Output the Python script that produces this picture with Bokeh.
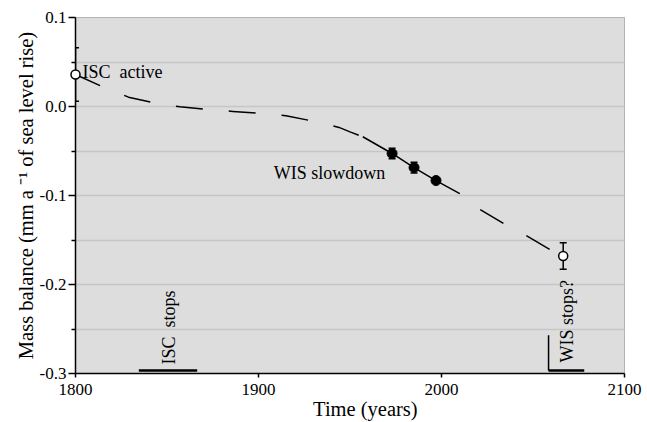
import math
from bokeh.plotting import figure
from bokeh.models import (ColumnDataSource, Whisker, TeeHead, FixedTicker,
                          PrintfTickFormatter, Range1d)
from bokeh.embed import file_html
from bokeh.resources import INLINE
from bokeh.core.properties import value

# ---------------- data ----------------
# model curve, before the observed period (dashed)
early_years = [1800, 1815, 1829, 1843, 1857, 1872, 1886, 1901, 1915, 1930,
               1944, 1950, 1957]
early_values = [0.036, 0.022, 0.0105, 0.004, -0.0004, -0.0033, -0.0055, -0.0078,
                -0.0103, -0.0165, -0.0235, -0.0285, -0.034]

# observed trend (solid)
solid_years = [1957, 1973, 1985, 1997, 2010]
solid_values = [-0.034, -0.0528, -0.0686, -0.0832, -0.0978]

# model curve, after the observed period (dashed)
late_years = [2010, 2020, 2034, 2046, 2060]
late_values = [-0.0978, -0.1144, -0.1316, -0.1447, -0.1616]

obs_years = [1973, 1985, 1997]
obs_values = [-0.0528, -0.0686, -0.0832]
obs_err = [0.006, 0.006, 0.002]

est_years = [1800, 2066.5]
est_values = [0.036, -0.168]
est_err = [0.03, 0.015]

event_start = [1834.6, 2058.5]
event_end = [1866.5, 2078]
event_level = [-0.2966, -0.2966]

mark_years = [2058.5]
mark_bottom = [-0.2966]
mark_top = [-0.257]

x_ticks = [1800, 1900, 2000, 2100]
y_ticks = [-0.3, -0.2, -0.1, 0.0, 0.1]
y_minor = [-0.25, -0.15, -0.05, 0.05]

note_texts = ["ISC\u00a0 active", "WIS slowdown", "ISC\u00a0 stops", "WIS stops?"]
note_x = [1803.8, 1908.4, 1851.0, 2068.5]
note_y = [0.0385, -0.0746, -0.2898, -0.2876]
note_angle = [0.0, 0.0, math.pi / 2, math.pi / 2]

x_title = "\u00a0" * 6 + "Time (years)"
y_title = "Mass balance (mm a \u207b\u00b9 of sea level rise)"

FONT = "Liberation Serif"

p = figure(frame_width=549, frame_height=356,
           min_border_left=75, min_border_right=23, min_border_top=17, min_border_bottom=48,
           x_range=Range1d(1800, 2100), y_range=Range1d(-0.3, 0.1),
           output_backend="svg", toolbar_location=None)

p.background_fill_color = "#dddddd"
p.border_fill_color = "white"
p.outline_line_color = "#b4b4b4"
p.outline_line_width = 1

xa = p.xaxis[0]
ya = p.yaxis[0]
xa.ticker = FixedTicker(ticks=x_ticks)
ya.ticker = FixedTicker(ticks=y_ticks, minor_ticks=y_minor)
ya.formatter = PrintfTickFormatter(format="%.1f")
for ax in (xa, ya):
    ax.axis_line_color = "black"
    ax.axis_line_width = 1.5
    ax.major_tick_line_color = "black"
    ax.major_tick_line_width = 1.5
    ax.major_tick_in = 0
    ax.minor_tick_in = 0
    ax.major_label_text_font = FONT
    ax.major_label_text_font_size = "17px"
    ax.major_label_text_color = "black"
    ax.axis_label_text_font = FONT
    ax.axis_label_text_font_size = "20.5px"
    ax.axis_label_text_font_style = "normal"
    ax.axis_label_text_color = "black"
    ax.axis_label_standoff = 0
xa.axis_label = x_title
ya.axis_label = y_title
xa.major_tick_out = 4
xa.minor_tick_line_color = None
xa.major_label_standoff = 6
ya.major_tick_out = 7
ya.minor_tick_out = 4
ya.minor_tick_line_color = "black"
ya.minor_tick_line_width = 1.5
ya.major_label_standoff = 2

p.xgrid.grid_line_color = None
p.ygrid.ticker = FixedTicker(ticks=y_ticks, minor_ticks=y_minor)
p.ygrid.grid_line_color = "#c6c6c6"
p.ygrid.grid_line_width = 1.5
p.ygrid.minor_grid_line_color = "#c6c6c6"
p.ygrid.minor_grid_line_width = 1.5

# curves
p.line(early_years, early_values, line_color="black", line_width=1.5, line_dash="27 26")
p.line(solid_years, solid_values, line_color="black", line_width=1.5)
p.line(late_years, late_values, line_color="black", line_width=1.5, line_dash="27 26",
       line_dash_offset=27)

# event bars at bottom
p.segment(x0=event_start, x1=event_end, y0=event_level, y1=event_level,
          line_color="black", line_width=2.5)
p.segment(x0=mark_years, x1=mark_years, y0=mark_bottom, y1=mark_top,
          line_color="black", line_width=1.5)

# error bars
obs_src = ColumnDataSource(dict(x=obs_years, y=obs_values,
                                lo=[v - e for v, e in zip(obs_values, obs_err)],
                                hi=[v + e for v, e in zip(obs_values, obs_err)]))
est_src = ColumnDataSource(dict(x=est_years, y=est_values,
                                lo=[v - e for v, e in zip(est_values, est_err)],
                                hi=[v + e for v, e in zip(est_values, est_err)]))
for src in (obs_src, est_src):
    w = Whisker(source=src, base="x", lower="lo", upper="hi", line_color="black",
                line_width=1.5,
                upper_head=TeeHead(size=7, line_color="black", line_width=1.5),
                lower_head=TeeHead(size=7, line_color="black", line_width=1.5))
    p.add_layout(w)

p.scatter("x", "y", source=obs_src, size=10, fill_color="black", line_color="black")
r_est = p.scatter("x", "y", source=est_src, size=9, fill_color="white",
                  line_color="black", line_width=1.5)
r_est.level = "overlay"

# annotations in the plot
p.text(x=note_x, y=note_y, text=note_texts, angle=note_angle,
       text_font=value(FONT), text_font_size="18px", text_color="black",
       text_align="left", text_baseline="alphabetic")

open("out.html", "w").write(file_html(p, INLINE))
